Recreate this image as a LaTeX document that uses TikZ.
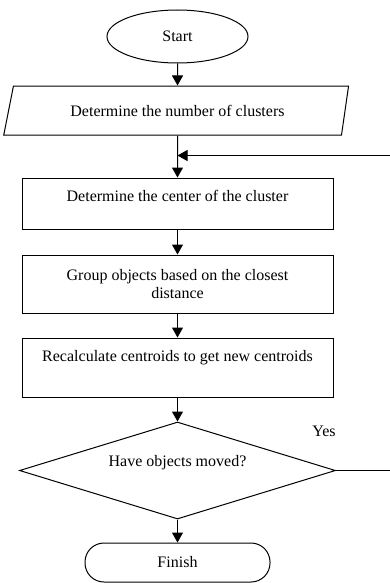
\documentclass[tikz,border=0pt]{standalone}
\usepackage{fontspec}
\setmainfont{Liberation Serif}
\usetikzlibrary{shapes.geometric, arrows.meta}
\usetikzlibrary{positioning}
\tikzset{
startbox/.style={
	ellipse,
	minimum width=141pt,
	minimum height=53pt,
	draw=black,
	line width=1pt,
	inner sep=0pt
},
iobox/.style={
	trapezium,
	trapezium left angle=61,
	trapezium right angle=112,
	trapezium stretches=true,
	minimum width=345pt,
	minimum height=49pt,
	draw=black,
	line width=1pt,
	inner sep=0pt
},
box/.style={
	rectangle,
	minimum width=311pt,
	minimum height=51pt,
	text centered,
	align=center,
	draw=black,
	line width=1pt,
	inner sep=0pt
},
decision/.style={
	diamond,
	aspect=3.2,
	minimum width=316pt,
	minimum height=97pt,
	draw=black,
	line width=1pt,
	inner sep=0pt
},
endbox/.style={
	rectangle,
	rounded corners=19pt,
	minimum width=185pt,
	minimum height=39pt,
	draw=black,
	line width=1pt,
	inner sep=0pt
},
arrow/.style={
	-{Triangle[width=11pt,length=10pt]},
	draw=black,
	line width=1pt
}
}
\begin{document}
\begin{tikzpicture}[x=1pt, y=1pt, font=\fontsize{16}{18}\selectfont]

\useasboundingbox (0,0) rectangle (389,-583);

\node (start)  [startbox] at (177.5,-36.5) {Start};
\node (ncl)    [iobox, below=22pt of start] {Determine the number of clusters};
\node (ctr)    [box, below=42pt of ncl, text height=12pt, text depth=16pt] {Determine the center of the cluster};
\node (group)  [box, below=25pt of ctr, minimum height=58pt] {Group objects based on the closest\\distance};
\node (recalc) [box, below=24pt of group, minimum height=59pt, text height=12pt, text depth=24pt] {Recalculate centroids to get new centroids};
\node (moved)  [decision, below=24pt of recalc, text height=12pt, text depth=20pt] {Have objects moved?};
\node (finish) [endbox, below=23pt of moved] {Finish};
\node (yes) at (324,-431) {Yes};
\coordinate (loop) at ([yshift=-20pt]ncl.south);

\draw [arrow] (start) -- (ncl);
\draw [arrow] (ncl) -- (ctr);
\draw [arrow] (ctr) -- (group);
\draw [arrow] (group) -- (recalc);
\draw [arrow] (recalc) -- (moved);
\draw [arrow] (moved) -- (finish);
\draw [arrow] (moved.east) -- ++(60pt,0) |- (loop);

\end{tikzpicture}
\end{document}
